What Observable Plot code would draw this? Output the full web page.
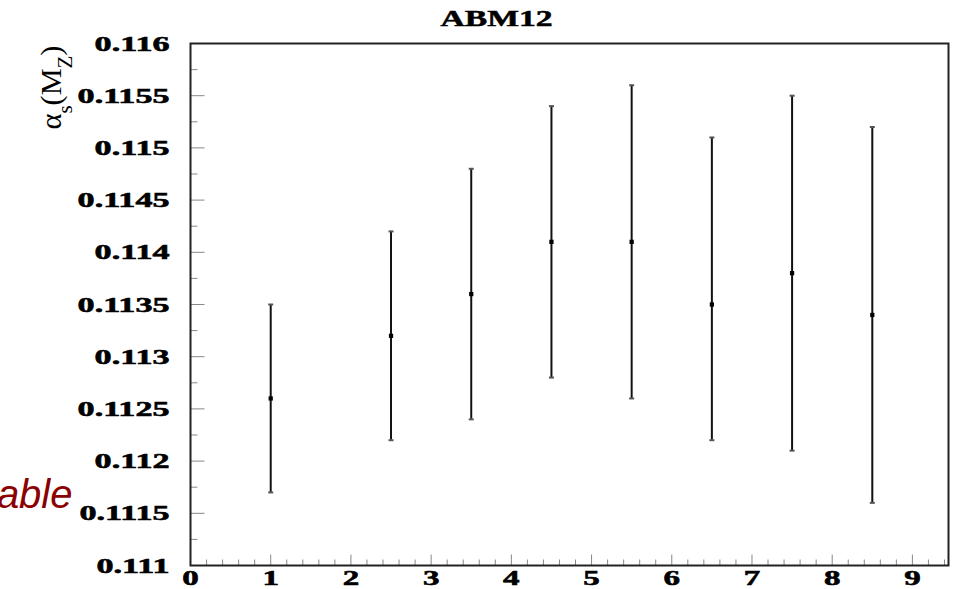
<!DOCTYPE html>
<html>
<head>
<meta charset="utf-8">
<script src="https://cdn.jsdelivr.net/npm/d3@7"></script>
<script src="https://cdn.jsdelivr.net/npm/@observablehq/plot@0.6"></script>
<style>
  html, body { margin: 0; padding: 0; background: #fff; }
  svg { display: block; }
</style>
</head>
<body>
<div id="chart"></div>
<script>
// ---- data ----
const title = "ABM12";
const sideNote = "able";
const xPos    = [1, 2.5, 3.5, 4.5, 5.5, 6.5, 7.5, 8.5];
const central = [0.1126, 0.1132, 0.1136, 0.1141, 0.1141, 0.1135, 0.1138, 0.1134];
const upper   = [0.1135, 0.1142, 0.1148, 0.1154, 0.1156, 0.1151, 0.1155, 0.1152];
const lower   = [0.1117, 0.1122, 0.1124, 0.1128, 0.1126, 0.1122, 0.1121, 0.1116];

const yTickValues = [0.111, 0.1115, 0.112, 0.1125, 0.113, 0.1135, 0.114, 0.1145, 0.115, 0.1155, 0.116];
const yTickLabels = ["0.111", "0.1115", "0.112", "0.1125", "0.113", "0.1135", "0.114", "0.1145", "0.115", "0.1155", "0.116"];
const yMinorTicks = [0.11125, 0.11175, 0.11225, 0.11275, 0.11325, 0.11375, 0.11425, 0.11475, 0.11525, 0.11575];
const xTickValues = [0, 1, 2, 3, 4, 5, 6, 7, 8, 9];
const xTickLabels = ["0", "1", "2", "3", "4", "5", "6", "7", "8", "9"];
const xMinorTicks = [0.2,0.4,0.6,0.8,1.2,1.4,1.6,1.8,2.2,2.4,2.6,2.8,3.2,3.4,3.6,3.8,4.2,4.4,4.6,4.8,
                     5.2,5.4,5.6,5.8,6.2,6.4,6.6,6.8,7.2,7.4,7.6,7.8,8.2,8.4,8.6,8.8,9.2,9.4];

const points = xPos.map((x, i) => ({x, y: central[i], lo: lower[i], hi: upper[i]}));

// custom symbols
const tickRight = { draw(ctx, size) { const r = Math.sqrt(size / Math.PI); ctx.moveTo(0, 0); ctx.lineTo(r, 0); } };
const tickUp    = { draw(ctx, size) { const r = Math.sqrt(size / Math.PI); ctx.moveTo(0, 0); ctx.lineTo(0, -r); } };
const capLine   = { draw(ctx, size) { const r = Math.sqrt(size / Math.PI); ctx.moveTo(-r, 0); ctx.lineTo(r, 0); } };

const chart = Plot.plot({
  width: 955,
  height: 589,
  marginLeft: 190,
  marginTop: 43,
  marginRight: 7,
  marginBottom: 24,
  style: { fontFamily: "'Liberation Serif', 'Times New Roman', serif", fontWeight: "bold", fontSize: "22px", background: "#fff", color: "#000" },
  x: { domain: [0, 9.45] },
  y: { domain: [0.111, 0.116] },
  marks: [
    Plot.axisY({ticks: yTickValues, tickSize: 0, tickPadding: 21, label: null, fontSize: 22,
                tickFormat: d => yTickLabels[yTickValues.indexOf(d)]}),
    Plot.axisX({ticks: xTickValues, tickSize: 0, tickPadding: 4, label: null, fontSize: 22,
                tickFormat: d => xTickLabels[xTickValues.indexOf(d)]}),
    Plot.dot(yTickValues, {y: d => d, frameAnchor: "left", symbol: tickRight, r: 14, fill: "none", stroke: "#888", strokeWidth: 1}),
    Plot.dot(yMinorTicks, {y: d => d, frameAnchor: "left", symbol: tickRight, r: 7, fill: "none", stroke: "#888", strokeWidth: 1}),
    Plot.dot(xTickValues, {x: d => d, frameAnchor: "bottom", symbol: tickUp, r: 11, fill: "none", stroke: "#888", strokeWidth: 1}),
    Plot.dot(xMinorTicks, {x: d => d, frameAnchor: "bottom", symbol: tickUp, r: 6, fill: "none", stroke: "#888", strokeWidth: 1}),
    Plot.ruleX(points, {x: "x", y1: "lo", y2: "hi", stroke: "#111", strokeWidth: 2}),
    Plot.dot(points, {x: "x", y: "hi", symbol: capLine, r: 2.5, fill: "none", stroke: "#555", strokeWidth: 2}),
    Plot.dot(points, {x: "x", y: "lo", symbol: capLine, r: 2.5, fill: "none", stroke: "#555", strokeWidth: 2}),
    Plot.dot(points, {x: "x", y: "y", symbol: "square", r: 2.4, fill: "#000", stroke: "none"}),
    Plot.frame({stroke: "#222", strokeWidth: 2}),
    Plot.text([title], {frameAnchor: "top", dx: -73, dy: -18, lineAnchor: "bottom", textAnchor: "middle",
                        fontSize: 23, fontWeight: "bold", fill: "#000", className: "ttl"}),
    Plot.text(["ylabel"], {frameAnchor: "top-left", dx: -139, dy: 44, rotate: -90, textAnchor: "middle",
                           lineAnchor: "middle", fontSize: 29, fontWeight: "normal", fill: "#000", className: "ylab"}),
    Plot.text([sideNote], {frameAnchor: "bottom-left", dx: -118, dy: -58, lineAnchor: "bottom", textAnchor: "end",
                           fontSize: 40, fontStyle: "italic", fontWeight: "normal", fill: "#8b0000",
                           fontFamily: "'Liberation Sans', Arial, sans-serif", className: "note"})
  ]
});

document.getElementById("chart").appendChild(chart);

const ylabText = chart.querySelector(".ylab text");
if (ylabText) {
  ylabText.textContent = "";
  const parts = [["α", false], ["s", true], ["(M", false], ["Z", true], [")", false]];
  const ns = "http://www.w3.org/2000/svg";
  for (const [t, sub] of parts) {
    const ts = document.createElementNS(ns, "tspan");
    ts.textContent = t;
    if (sub) { ts.setAttribute("baseline-shift", "sub"); ts.setAttribute("font-size", "20"); }
    ylabText.appendChild(ts);
  }
}

function stretch(sel, k) {
  chart.querySelectorAll(sel).forEach(t => {
    const len = t.getComputedTextLength();
    t.setAttribute("textLength", (len * k).toFixed(1));
    t.setAttribute("lengthAdjust", "spacingAndGlyphs");
    t.setAttribute("stroke", "#000");
    t.setAttribute("stroke-width", "0.6");
  });
}
stretch('g[aria-label="y-axis tick label"] text', 1.55);
stretch('g[aria-label="x-axis tick label"] text', 1.5);
const tt = chart.querySelector(".ttl text");
if (tt) { tt.setAttribute("textLength", "112"); tt.setAttribute("lengthAdjust", "spacingAndGlyphs"); tt.setAttribute("stroke", "#000"); tt.setAttribute("stroke-width", "0.5"); }
if (ylabText) { ylabText.setAttribute("textLength", "84"); ylabText.setAttribute("lengthAdjust", "spacingAndGlyphs"); }
</script>
</body>
</html>
